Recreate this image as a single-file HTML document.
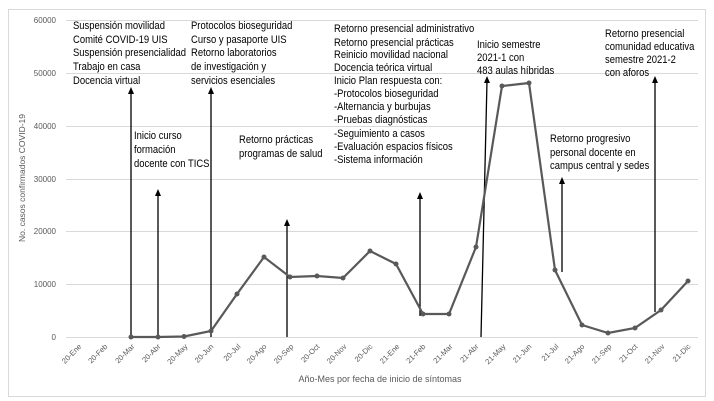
<!DOCTYPE html>
<html><head><meta charset="utf-8"><style>
html,body{margin:0;padding:0;background:#fff;}
svg{display:block;font-family:"Liberation Sans",sans-serif;}
</style></head><body>
<svg width="714" height="401" viewBox="0 0 714 401" xmlns="http://www.w3.org/2000/svg">
<rect x="8.5" y="9.5" width="697" height="387" fill="#fff" stroke="#d9d9d9"/>
<g stroke="#d9d9d9" stroke-width="1">
<line x1="66" x2="698" y1="20.5" y2="20.5"/><line x1="66" x2="698" y1="73.5" y2="73.5"/>
<line x1="66" x2="698" y1="126.5" y2="126.5"/><line x1="66" x2="698" y1="179.5" y2="179.5"/>
<line x1="66" x2="698" y1="231.5" y2="231.5"/><line x1="66" x2="698" y1="284.5" y2="284.5"/>
<line x1="66" x2="698" y1="337.5" y2="337.5"/>
</g>
<g font-size="8" fill="#595959" text-anchor="end">
<text x="56" y="23">60000</text><text x="56" y="76">50000</text><text x="56" y="129">40000</text>
<text x="56" y="182">30000</text><text x="56" y="234">20000</text><text x="56" y="287">10000</text><text x="56" y="340">0</text>
</g>
<text transform="translate(25,178) rotate(-90)" font-size="8.5" fill="#595959" text-anchor="middle">No. casos confirmados COVID-19</text>
<text x="380" y="382" font-size="9" fill="#595959" text-anchor="middle">Año-Mes por fecha de inicio de síntomas</text>
<g font-size="7.5" fill="#595959" text-anchor="end">
<text transform="translate(82,347) rotate(-45)">20-Ene</text>
<text transform="translate(108,347) rotate(-45)">20-Feb</text>
<text transform="translate(135,347) rotate(-45)">20-Mar</text>
<text transform="translate(161,347) rotate(-45)">20-Abr</text>
<text transform="translate(188,347) rotate(-45)">20-May</text>
<text transform="translate(214,347) rotate(-45)">20-Jun</text>
<text transform="translate(241,347) rotate(-45)">20-Jul</text>
<text transform="translate(267,347) rotate(-45)">20-Ago</text>
<text transform="translate(294,347) rotate(-45)">20-Sep</text>
<text transform="translate(320,347) rotate(-45)">20-Oct</text>
<text transform="translate(347,347) rotate(-45)">20-Nov</text>
<text transform="translate(373,347) rotate(-45)">20-Dic</text>
<text transform="translate(400,347) rotate(-45)">21-Ene</text>
<text transform="translate(426,347) rotate(-45)">21-Feb</text>
<text transform="translate(453,347) rotate(-45)">21-Mar</text>
<text transform="translate(479,347) rotate(-45)">21-Abr</text>
<text transform="translate(506,347) rotate(-45)">21-May</text>
<text transform="translate(532,347) rotate(-45)">21-Jun</text>
<text transform="translate(559,347) rotate(-45)">21-Jul</text>
<text transform="translate(585,347) rotate(-45)">21-Ago</text>
<text transform="translate(612,347) rotate(-45)">21-Sep</text>
<text transform="translate(638,347) rotate(-45)">21-Oct</text>
<text transform="translate(665,347) rotate(-45)">21-Nov</text>
<text transform="translate(691,347) rotate(-45)">21-Dic</text>
</g>
<g stroke="#000" stroke-width="1.3">
<line x1="131" y1="337" x2="131" y2="92"/>
<line x1="158" y1="337" x2="158" y2="194"/>
<line x1="211" y1="337" x2="211" y2="92"/>
<line x1="287" y1="337" x2="287" y2="224"/>
<line x1="420" y1="316" x2="420" y2="197"/>
<line x1="481" y1="337" x2="487" y2="81"/>
<line x1="562" y1="272" x2="562" y2="182"/>
<line x1="655" y1="312" x2="655" y2="81"/>
</g>
<g fill="#000">
<path d="M128,94 L131,87 L134,94Z"/><path d="M155,196 L158,189 L161,196Z"/>
<path d="M208,94 L211,87 L214,94Z"/><path d="M284,226 L287,219 L290,226Z"/>
<path d="M417,199 L420,192 L423,199Z"/><path d="M484,83 L487,76 L490,83Z"/>
<path d="M559,184 L562,177 L565,184Z"/><path d="M652,83 L655,76 L658,83Z"/>
</g>
<polyline fill="none" stroke="#595959" stroke-width="2.2" points="131,337 158,337 184,336.5 211,331 237,294 264,257 290,277 317,276 343,278 370,251 396,264 423,314 449,314 476,247 502,86 529,83 555,270 582,325 608,333 635,328 661,310 688,281"/>
<g fill="#595959">
<circle cx="131" cy="337" r="2.5"/><circle cx="158" cy="337" r="2.5"/><circle cx="184" cy="336.5" r="2.5"/><circle cx="211" cy="331" r="2.5"/><circle cx="237" cy="294" r="2.5"/><circle cx="264" cy="257" r="2.5"/><circle cx="290" cy="277" r="2.5"/><circle cx="317" cy="276" r="2.5"/><circle cx="343" cy="278" r="2.5"/><circle cx="370" cy="251" r="2.5"/><circle cx="396" cy="264" r="2.5"/><circle cx="423" cy="314" r="2.5"/><circle cx="449" cy="314" r="2.5"/><circle cx="476" cy="247" r="2.5"/><circle cx="502" cy="86" r="2.5"/><circle cx="529" cy="83" r="2.5"/><circle cx="555" cy="270" r="2.5"/><circle cx="582" cy="325" r="2.5"/><circle cx="608" cy="333" r="2.5"/><circle cx="635" cy="328" r="2.5"/><circle cx="661" cy="310" r="2.5"/><circle cx="688" cy="281" r="2.5"/>
</g>
<g font-size="11" fill="#000">
<g transform="translate(73,0) scale(0.86,1)">
<text x="0" y="29">Suspensión movilidad</text><text x="0" y="43">Comité COVID-19 UIS</text>
<text x="0" y="56">Suspensión presencialidad</text><text x="0" y="70">Trabajo en casa</text><text x="0" y="84">Docencia virtual</text>
</g>
<g transform="translate(134,0) scale(0.86,1)">
<text x="0" y="139">Inicio curso</text><text x="0" y="153">formación</text><text x="0" y="167">docente con TICS</text>
</g>
<g transform="translate(191,0) scale(0.86,1)">
<text x="0" y="29">Protocolos bioseguridad</text><text x="0" y="43">Curso y pasaporte UIS</text>
<text x="0" y="56">Retorno laboratorios</text><text x="0" y="70">de investigación y</text><text x="0" y="84">servicios esenciales</text>
</g>
<g transform="translate(239,0) scale(0.86,1)">
<text x="0" y="143">Retorno prácticas</text><text x="0" y="157">programas de salud</text>
</g>
<g transform="translate(334,0) scale(0.86,1)">
<text x="0" y="32">Retorno presencial administrativo</text><text x="0" y="46">Retorno presencial prácticas</text>
<text x="0" y="58">Reinicio movilidad nacional</text><text x="0" y="71">Docencia teórica virtual</text>
<text x="0" y="84">Inicio Plan respuesta con:</text><text x="0" y="97">-Protocolos bioseguridad</text>
<text x="0" y="110">-Alternancia y burbujas</text><text x="0" y="123">-Pruebas diagnósticas</text>
<text x="0" y="137">-Seguimiento a casos</text><text x="0" y="150">-Evaluación espacios físicos</text>
<text x="0" y="163">-Sistema información</text>
</g>
<g transform="translate(477,0) scale(0.86,1)">
<text x="0" y="48">Inicio semestre</text><text x="0" y="61">2021-1 con</text><text x="0" y="74">483 aulas híbridas</text>
</g>
<g transform="translate(550,0) scale(0.86,1)">
<text x="0" y="142">Retorno progresivo</text><text x="0" y="156">personal docente en</text><text x="0" y="169">campus central y sedes</text>
</g>
<g transform="translate(605,0) scale(0.86,1)">
<text x="0" y="37">Retorno presencial</text><text x="0" y="50">comunidad educativa</text>
<text x="0" y="63">semestre 2021-2</text><text x="0" y="76">con aforos</text>
</g>
</g>
</svg>
</body></html>
